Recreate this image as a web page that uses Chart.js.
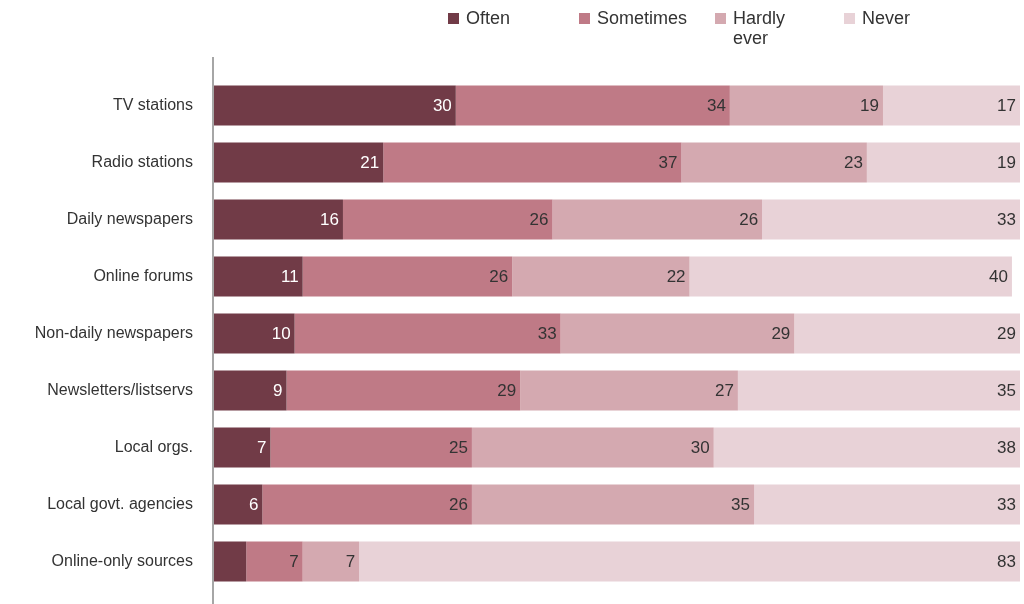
<!DOCTYPE html>
<html>
<head>
<meta charset="utf-8">
<script src="https://cdn.jsdelivr.net/npm/chart.js@4"></script>
<style>
  body { margin: 0; background: #fff; font-family: "Liberation Sans", Arial, sans-serif; }
  #wrap { position: relative; width: 1024px; height: 604px; }
  .leg { position: absolute; top: 8px; font-size: 18px; color: #333; line-height: 20px; }
  .leg i { position: absolute; left: -18px; top: 5px; width: 11px; height: 11px; }
</style>
</head>
<body>
<div id="wrap">
  <canvas id="chart" width="1024" height="604"></canvas>
  <div class="leg" style="left:466px"><i style="background:#713b47"></i>Often</div>
  <div class="leg" style="left:597px"><i style="background:#bf7a86"></i>Sometimes</div>
  <div class="leg" style="left:733px"><i style="background:#d4a9b0"></i>Hardly<br>ever</div>
  <div class="leg" style="left:862px"><i style="background:#e8d2d7"></i>Never</div>
</div>
<script>
const categories = ['TV stations', 'Radio stations', 'Daily newspapers', 'Online forums',
  'Non-daily newspapers', 'Newsletters/listservs', 'Local orgs.', 'Local govt. agencies', 'Online-only sources'];
const often     = [30, 21, 16, 11, 10,  9,  7,  6,  4];
const sometimes = [34, 37, 26, 26, 33, 29, 25, 26,  7];
const hardly    = [19, 23, 26, 22, 29, 27, 30, 35,  7];
const never     = [17, 19, 33, 40, 29, 35, 38, 33, 83];

const seriesNames = ['Often', 'Sometimes', 'Hardly ever', 'Never'];
const colors = ['#713b47', '#bf7a86', '#d4a9b0', '#e8d2d7'];
const labelColors = ['#ffffff', '#333333', '#333333', '#333333'];

// numbers inside the bars, right aligned at the end of each segment
const barLabels = {
  id: 'barLabels',
  afterDatasetsDraw(chart) {
    const ctx = chart.ctx;
    const right = chart.chartArea.right;
    ctx.save();
    ctx.font = '17px "Liberation Sans", Arial, sans-serif';
    ctx.textAlign = 'right';
    ctx.textBaseline = 'middle';
    chart.data.datasets.forEach((ds, i) => {
      chart.getDatasetMeta(i).data.forEach((bar, j) => {
        const v = ds.data[j];
        if (v < 5) return;
        ctx.fillStyle = labelColors[i];
        ctx.fillText(v, Math.min(bar.x, right) - 4, bar.y + 1);
      });
    });
    ctx.restore();
  }
};

// vertical axis line, running above and below the bars
const axisLine = {
  id: 'axisLine',
  afterDraw(chart) {
    const ctx = chart.ctx;
    const x = chart.chartArea.left - 1;
    ctx.save();
    ctx.strokeStyle = '#888';
    ctx.lineWidth = 1.5;
    ctx.beginPath();
    ctx.moveTo(x, 57);
    ctx.lineTo(x, 604);
    ctx.stroke();
    ctx.restore();
  }
};

new Chart(document.getElementById('chart'), {
  type: 'bar',
  data: {
    labels: categories,
    datasets: [often, sometimes, hardly, never].map((d, i) => ({
      label: seriesNames[i],
      data: d,
      backgroundColor: colors[i],
      borderWidth: 0,
      barPercentage: 0.7,
      categoryPercentage: 1
    }))
  },
  options: {
    indexAxis: 'y',
    responsive: false,
    animation: false,
    layout: { padding: { top: 77, bottom: 14, right: 4, left: 0 } },
    plugins: { legend: { display: false }, tooltip: { enabled: false } },
    scales: {
      x: { stacked: true, min: 0, max: 100, display: false },
      y: {
        stacked: true,
        grid: { display: false },
        border: { display: false },
        afterFit(scale) {
          scale.width = 214;
          scale.paddingTop = 0;
          scale.paddingBottom = 0;
        },
        ticks: {
          color: '#333',
          padding: 13,
          font: { size: 16, family: '"Liberation Sans", Arial, sans-serif' }
        }
      }
    }
  },
  plugins: [barLabels, axisLine]
});
</script>
</body>
</html>
